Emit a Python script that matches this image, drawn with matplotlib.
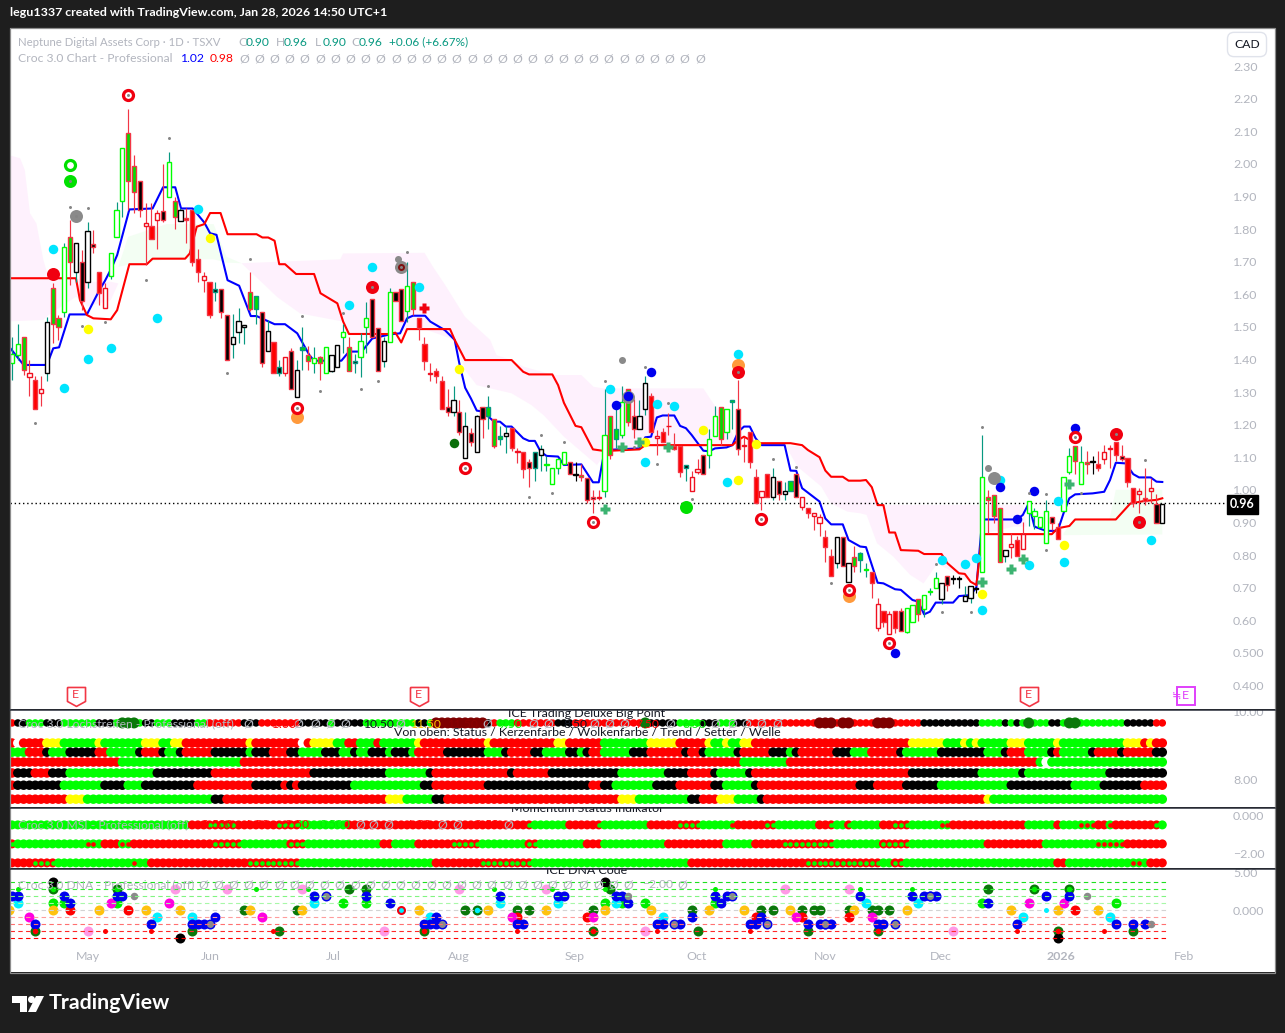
import matplotlib
matplotlib.use("Agg")
import matplotlib.pyplot as plt
from matplotlib.lines import Line2D
from matplotlib.patches import Polygon, Circle, Rectangle
from matplotlib.path import Path
from matplotlib.transforms import Affine2D

plt.rcParams['font.family'] = ['Lato', 'DejaVu Sans']

W, H = 1285, 1033
BG = '#1e1e1e'
GRAY = '#b2b5be'
TEAL = '#089981'
MINUS = '\u2212'

# Candles, one entry per bar
candle_top = [
    1.417,1.447,1.468,1.357,1.337,1.308,1.516,1.618,1.526,1.746,
    1.776,1.756,1.698,1.795,1.755,1.667,1.618,1.725,1.857,2.047,
    2.095,1.994,1.946,1.817,1.809,1.848,1.856,2.006,1.887,1.857,
    1.835,1.857,1.707,1.657,1.636,1.617,1.617,1.537,1.468,1.517,
    1.507,1.606,1.596,1.546,1.486,1.454,1.376,1.406,1.427,1.367,
    1.437,1.414,1.403,1.406,1.437,1.414,1.445,1.485,1.437,1.396,
    1.455,1.526,1.586,1.497,1.455,1.606,1.606,1.617,1.626,1.636,
    1.526,1.447,1.357,1.365,1.335,1.255,1.277,1.238,1.197,1.175,
    1.227,1.255,1.255,1.216,1.166,1.175,1.189,1.118,1.117,1.086,
    1.117,1.126,1.078,1.066,1.096,1.117,1.086,1.048,1.045,1.037,
    .977,.977,1.167,1.227,1.188,1.268,1.308,1.227,1.227,1.327,
    1.287,1.166,1.176,1.197,1.135,1.135,1.077,1.038,1.065,1.106,
    1.157,1.227,1.255,1.247,1.277,1.247,1.137,1.176,1.038,.997,
    1.047,1.038,1.026,.997,1.026,1.047,.977,.945,.928,.918,
    .856,.796,.856,.856,.776,.795,.807,.757,.747,.649,
    .627,.618,.627,.627,.636,.648,.666,.676,.690,.728,
    .715,.737,.728,.728,.675,.706,.698,1.038,.977,.985,
    .945,.816,.835,.847,.865,.967,.936,.918,.936,.918,
    .887,1.038,1.105,1.135,1.086,1.086,1.088,1.078,1.117,1.128,
    1.146,1.105,1.097,1.007,.997,.976,1.007,.956,.957]
candle_bot = [
    1.388,1.414,1.367,1.347,1.247,1.296,1.357,1.508,1.498,1.546,
    1.698,1.667,1.579,1.636,1.746,1.605,1.557,1.657,1.776,1.887,
    1.946,1.915,1.858,1.808,1.768,1.828,1.828,1.897,1.836,1.826,
    1.828,1.698,1.667,1.645,1.537,1.606,1.546,1.398,1.446,1.485,
    1.498,1.556,1.556,1.388,1.427,1.357,1.357,1.357,1.308,1.286,
    1.429,1.396,1.388,1.388,1.357,1.365,1.376,1.468,1.365,1.388,
    1.406,1.498,1.47,1.365,1.396,1.454,1.578,1.517,1.548,1.556,
    1.495,1.396,1.355,1.349,1.247,1.238,1.238,1.176,1.097,1.146,
    1.117,1.216,1.227,1.135,1.157,1.166,1.127,1.116,1.065,1.066,
    1.066,1.107,1.076,1.017,1.066,1.078,1.047,1.046,1.038,.968,
    .971,.975,.997,1.106,1.157,1.167,1.207,1.188,1.188,1.247,
    1.176,1.158,1.146,1.195,1.125,1.056,1.066,.997,1.056,1.047,
    1.106,1.166,1.157,1.176,1.268,1.126,1.135,1.086,.959,.977,
    .977,.977,.987,.986,.997,.977,.946,.928,.919,.897,
    .826,.737,.776,.767,.716,.767,.785,.755,.715,.577,
    .596,.557,.577,.567,.565,.596,.619,.635,.688,.698,
    .666,.707,.726,.726,.658,.667,.696,.747,.969,.921,
    .779,.796,.826,.796,.817,.928,.919,.887,.836,.898,
    .849,.936,1.056,1.087,1.017,1.079,1.086,1.066,1.095,1.126,
    1.106,1.095,1.025,.958,.986,.966,.997,.897,.897]
candle_hi = [
    1.47,1.508,1.47,1.398,1.349,1.349,1.53,1.633,1.536,1.757,
    1.827,1.756,1.735,1.821,1.797,1.667,1.633,1.725,1.884,2.047,
    2.167,2.027,1.946,1.879,1.879,1.858,2.0,2.035,1.899,1.863,
    1.863,1.857,1.74,1.667,1.636,1.636,1.617,1.537,1.539,1.557,
    1.507,1.667,1.596,1.546,1.52,1.454,1.398,1.406,1.434,1.398,
    1.5,1.44,1.437,1.41,1.437,1.414,1.445,1.51,1.47,1.417,
    1.48,1.577,1.586,1.497,1.47,1.62,1.606,1.617,1.698,1.636,
    1.526,1.47,1.388,1.375,1.349,1.308,1.318,1.277,1.238,1.19,
    1.23,1.255,1.288,1.216,1.196,1.196,1.189,1.127,1.117,1.096,
    1.117,1.137,1.103,1.066,1.096,1.117,1.086,1.086,1.079,1.037,
    .999,.999,1.308,1.227,1.265,1.318,1.308,1.28,1.275,1.349,
    1.296,1.183,1.19,1.237,1.175,1.135,1.077,1.058,1.096,1.106,
    1.188,1.257,1.255,1.247,1.277,1.337,1.163,1.176,1.063,.997,
    1.047,1.066,1.026,1.025,1.026,1.047,.977,.945,.928,.926,
    .877,.817,.856,.856,.776,.827,.81,.774,.747,.667,
    .627,.627,.627,.637,.636,.648,.666,.676,.698,.747,
    .715,.737,.739,.737,.706,.706,.703,1.168,.999,.985,
    .945,.816,.866,.858,.902,.967,.943,.918,.969,.918,
    .899,1.038,1.127,1.135,1.135,1.119,1.104,1.119,1.137,1.137,
    1.146,1.137,1.097,1.007,1.007,1.066,1.035,.986,.957]
candle_lo = [
    1.337,1.398,1.352,1.288,1.247,1.257,1.335,1.449,1.459,1.53,
    1.628,1.638,1.551,1.62,1.727,1.567,1.557,1.646,1.776,1.838,
    1.858,1.85,1.838,1.69,1.768,1.74,1.82,1.897,1.799,1.826,
    1.758,1.687,1.638,1.608,1.528,1.579,1.528,1.398,1.403,1.45,
    1.447,1.55,1.51,1.378,1.427,1.357,1.349,1.349,1.308,1.286,
    1.367,1.367,1.357,1.337,1.357,1.36,1.376,1.42,1.365,1.359,
    1.345,1.42,1.47,1.365,1.377,1.454,1.578,1.517,1.516,1.536,
    1.459,1.367,1.335,1.329,1.247,1.226,1.226,1.168,1.097,1.134,
    1.117,1.158,1.188,1.127,1.137,1.114,1.12,1.083,1.035,1.01,
    1.028,1.059,1.059,1.017,1.048,1.078,1.047,1.028,1.028,.958,
    .93,.968,.979,1.096,1.127,1.158,1.195,1.158,1.188,1.23,
    1.176,1.107,1.146,1.168,1.122,1.04,1.028,.997,1.048,1.047,
    1.066,1.166,1.137,1.157,1.188,1.107,1.086,1.066,.959,.938,
    .977,.969,.969,.969,.997,.977,.938,.915,.877,.858,
    .78,.737,.759,.767,.716,.749,.749,.734,.667,.568,
    .58,.557,.56,.567,.56,.596,.597,.61,.677,.698,
    .65,.69,.71,.7,.658,.652,.682,.747,.867,.899,
    .779,.78,.79,.796,.817,.889,.879,.887,.836,.877,
    .849,.936,1.048,1.048,1.017,1.048,1.048,1.059,1.079,1.068,
    1.088,1.088,1.01,.948,.928,.953,.961,.897,.897]
candle_kind = "".join([
    "gglhfhkllg","lkbkbfhggg","llbhfhbglk","fffhfnbbkk","klmbkfnhbk",
    "mlglgkkgln","ggbbkgbbgl","ffhffbkbkb","kbmlmkfhfb","nkggggbjlb",
    "bhglmglbkk","fhfhffnhhb","gglgmbhffh","fkbkmbhfhh","ffkbklmgfh",
    "fhfbgglggg","kbjjkkjgll","lkhfhggggb","fgglgljfhh","fbffhfhbk"])

# Blue and red lines
blue_x = [-0.5,2,6,7.1,8.1,9.9,12.9,15,16,17.1,18.1,20.2,24.2,26,28.1,29.1,31.1,33.1,34.1,35.2,37.1,39.1,
          41.1,42.1,45.2,47,49.1,51.2,52,56.7,58,60.2,62,65.1,66.8,68,69,71.1,72,74.5,76.2,77,78,79,80,81,
          83,84,85,86,88,89,90,91,92,94,95,98,100,101,102,108,109,110,111,112,114,115,116,117,119,120,121,
          123,124,125,126,127,128,129,133,134,135,136,139,140,141,143,144,146,147,149,150,152,153,155,156,
          157,158,159,162,163,165,166,167,173,174,175,176,178,180,181,182,183,186,188,189,190,191.7,193,194,
          196,197,198]
blue_y = [1.439,1.383,1.383,1.434,1.437,1.538,1.538,1.611,1.641,1.679,1.72,1.86,1.863,1.928,1.928,1.863,
          1.863,1.82,1.787,1.782,1.643,1.626,1.533,1.533,1.508,1.508,1.48,1.413,1.396,1.396,1.424,1.424,
          1.464,1.477,1.48,1.526,1.534,1.534,1.516,1.49,1.46,1.388,1.313,1.28,1.243,1.24,1.209,1.209,1.194,
          1.194,1.158,1.15,1.15,1.117,1.104,1.102,1.076,1.078,1.023,1.023,1.122,1.127,1.161,1.163,1.222,
          1.228,1.228,1.196,1.189,1.168,1.12,1.118,1.127,1.13,1.137,1.178,1.194,1.194,1.158,1.137,1.137,
          1.059,1.058,1.005,.964,.912,.894,.894,.846,.826,.824,.715,.713,.695,.693,.662,.657,.618,.626,
          .654,.654,.674,.677,.701,.909,.909,.923,.958,.887,.874,.874,.928,.974,.986,.989,.994,1.03,1.083,
          1.081,1.048,1.038,1.038,1.025,1.024]
red_x = [-0.5,11,11.7,12.9,14,17,18.1,20.2,23.2,24.2,29.8,30.6,31.8,33.1,34.1,35.9,37.1,42.1,43.1,44.1,45.2,
         46,47,48.9,52,53.1,56,57,58,64.8,66,67,68,72,75.4,76.2,78,86,88,89,93,94,95,97,98,100,102,108,109,
         124,125,126,127,128,134,136,137,139,140,141,143,144,146,147,148,149,150,151,152,153,156,157,160,161,
         163,164,165,166,167,179,180,182,183,190,192.5,195,197,198]
red_y = [1.649,1.649,1.582,1.536,1.526,1.523,1.551,1.692,1.692,1.709,1.709,1.725,1.807,1.815,1.849,1.849,
         1.784,1.784,1.774,1.774,1.764,1.692,1.692,1.662,1.662,1.603,1.572,1.516,1.478,1.478,1.482,1.452,
         1.493,1.493,1.493,1.46,1.398,1.398,1.362,1.354,1.354,1.321,1.267,1.196,1.192,1.124,1.119,1.124,
         1.137,1.137,1.153,1.163,1.153,1.143,1.143,1.137,1.122,1.1,1.059,1.04,1.04,1.028,1.028,1.03,1.008,
         .953,.953,.869,.869,.815,.813,.803,.803,.775,.744,.742,.718,.708,.864,.864,.882,.889,.909,.909,
         .958,.966,.969,.974]

# Cloud outlines, going round each patch
pink_a_x = [-1.5,0,1.4,2.2,3.1,4.2,5.4,6.3,11,13,17,18.3,17,13,11,6.3,5.4,-1.5]
pink_a_y = [2.024,2.024,2.017,1.981,1.848,1.817,1.705,1.649,1.649,1.638,1.638,1.633,1.582,1.562,1.592,1.536,1.521,1.516]
green_a_x = [18.3,20,26.6,34.7,36.9,39.5,36.9,34.7,26.6,20]
green_a_y = [1.684,1.776,1.815,1.815,1.715,1.695,1.697,1.707,1.707,1.69]
pink_b_x = [39.5,56.5,57,71,72.5,74.5,78,82.3,83.4,86,88,93.2,98,100.1,101.8,119,120.7,123,124.5,123.6,108,102.1,
            100.7,95,91.5,89.4,86,80,78,76.2,71,58,57,49.6,45.6,43.8]
pink_b_y = [1.695,1.707,1.725,1.727,1.683,1.63,1.53,1.46,1.413,1.398,1.378,1.352,1.352,1.316,1.311,1.311,1.265,
            1.214,1.153,1.137,1.132,1.112,1.076,1.163,1.229,1.26,1.296,1.321,1.367,1.46,1.493,1.478,1.516,1.541,1.592,1.623]
pink_c_x = [133.1,136.2,139,140,141,143,144,146,147,148,149,174,174.7,172.4,167,166,159.3,156.9,154.6,151.7,148.9,
            147.1,146,143.8,141,139.3,135.2]
pink_c_y = [1.137,1.132,1.1,1.059,1.04,1.04,1.028,1.03,1.03,1.008,.953,.953,.887,.887,.864,.708,.774,.713,.739,.795,
            .836,.923,.928,.933,.958,1.01,1.071]
green_c_x = [181,182.7,188.9,190,198,198,181]
green_c_y = [.866,.909,.909,1.0,1.0,.863,.861]

# Signals on the price pane
red_ring_x = [20,49,78,100,129,144,151,183]
red_ring_y = [2.21,1.25,1.066,.90,.909,.693,.531,1.161]
red_solid_x = [62,125,190,194,7]
red_solid_y = [1.621,1.362,1.17,.902,1.661]
orange_x = [49,144,125]
orange_y = [1.224,.674,1.383]
gray_big_x = [11,67,106,169]
gray_big_y = [1.841,1.684,1.284,1.035]
gray_mid_x = [66.5,105,168]
gray_mid_y = [1.709,1.397,1.066]
cyan_x = [7,32,25,17,13,9,62,58,70,103,111,114,109,123,125,160,164,166,167,170,175,181,180,196]
cyan_y = [1.74,1.86,1.526,1.436,1.40,1.311,1.684,1.566,1.623,1.308,1.262,1.256,1.086,1.023,1.416,.784,.771,.79,.63,1.03,.768,.777,.965,.845]
yellow_x = [13,34,77,109,119,125,128,167,181]
yellow_y = [1.492,1.773,1.37,1.146,1.182,1.029,1.14,.679,.83]
blue_dot_x = [104,110,106,152,170,173,176,183]
blue_dot_y = [1.259,1.36,1.289,.498,1.01,.909,.995,1.189]
plus_x = [102,105,108,113,167,172,174,182]
plus_y = [.94,1.13,1.148,1.13,.716,.756,.787,1.017]
tiny_x = [20,27,10,13,23,12,16,41,50,57,68,4,37,53,60,63,82,91,95,89,93,102,109,107,111,113,117,131,135,141,
          159,160,165,167,175,178,178,184,195,49,78,100,129,144,151,183,62,125,190,194,10,11,67]
tiny_y = [2.21,2.078,1.868,1.863,1.645,1.504,1.514,1.707,1.533,1.541,1.731,1.204,1.357,1.302,1.308,1.333,1.317,1.168,
          1.146,.977,.989,1.335,1.376,1.13,1.078,1.265,.971,1.093,1.071,.713,.771,.624,.624,1.192,.991,.988,.814,.991,
          1.09,1.25,1.066,.90,.909,.693,.531,1.161,1.621,1.362,1.17,.902,1.948,1.841,1.684]
earnings_x = [11,70,175]

price_ticks = [round(0.4 + 0.1 * k, 1) for k in range(20)]
price_labels = ['0.400', '0.500'] + ['%.2f' % t for t in price_ticks[2:]]
month_ticks = [13.1,34.1,55.3,76.9,96.9,117.9,139.9,159.9,180.5,201.7]
month_labels = ['May','Jun','Jul','Aug','Sep','Oct','Nov','Dec','2026','Feb']

# Strip rows: colour code + first bar of the run
row_point = "r0 k1 g3 k6 g9 k15 g18 d19 g22 k23 g25 k28 g32 r34 k40 r43 k50 g55 k56 g61 k70 g72 D73 k82 r83 g84 r87 k94 r97 d109 k110 g115 k119 g122 k125 r127 D139 r142 D143 r145 D149 r152 k157 g167 k171 g172 k173 g174 d175 g176 k179 g181 d182 g184 k192 r197"
row_status = "r0 w1 r2 y6 g9 y15 g16 y23 g26 y28 r30 y41 r42 w50 r51 y52 g56 r58 g60 r63 g64 y70 r71 y82 r83 y94 r96 g102 y110 r115 y120 g121 y123 g124 y126 r128 y155 g161 y164 g165 y166 g167 y172 g175 y180 g181 y192 r195 y196 r197"
row_candle = "g0 r3 k6 g7 k10 r15 g17 k22 r23 k26 g27 k29 r30 k35 g41 k42 r45 k48 g50 k54 g57 k59 g60 k62 g65 k66 g69 r70 k75 g82 k85 r86 k90 g92 k96 g98 k99 r100 g102 k107 r110 k116 r117 k119 g120 k125 r126 k131 g134 k135 r136 k142 g145 r148 k153 g154 k160 g168 k171 r172 g175 k179 r180 g181 k186 r187 k191 r192 k197"
row_cloud = "r0 g19 r40 g126 r134 g177 w178 g179"
row_trend = "r0 k1 r4 k7 g10 k25 r35 k52 g65 k72 r73 k86 r87 k93 g105 k113 r117 k121 g122 k127 r128 k155 g167 k174 g175 k189"
row_setter = "r0 k1 g9 k16 g20 k23 r32 k42 r47 k48 r49 k50 g59 k71 r73 k82 r100 k102 g104 k111 r115 k121 g123 k128 r129 k146 r149 k154 g160 k172 g183 k188 r195"
row_wave = "r0 y10 g13 k35 r37 y65 g68 k73 r75 y105 g108 k117 r119 y122 g125 k129 r130 y168 g169"
strip_levels = [9.65,9.06,8.79,8.5,8.18,7.82,7.41]

# Momentum rows, a = red with lime centre, b = lime with red centre
mom_one = "g0 r31 a34 r39 a46 g50 r58 a89 g90 r96 a101 g102 r110 a115 g119 b124 r125 a130 g132 r139 a141 g142 a144 g145 r150 a152 g155 b160 r162 g175 r180 g181 b184 r187 b189 r190 a197 g198"
mom_two = "a0 g1 b13 g15 r16 b19 r21 a35 g40 a48 g51 r64 g66 r70 a76 g81 a89 g91 r99 g102 r113 g123 r128 a133 g142 a150 g155 r168 g178 b187 r192"
mom_three = "r0 a4 g8 b21 g22 r24 a41 g50 r73 a81 g90 r117 a137 g150 a152 g154 r180 g182 b193 g195 r196"
mom_levels = [-0.47,-1.47,-2.47]

# DNA pane, bar index and level per colour
dna_blue_x = [0,1,9,18,19,52,61,84,94,95,104,105,121,123,146,155,157,158,159,178,182,10,65,106,122,168,35,73,117,129,
              4,24,31,32,33,71,72,73,87,88,111,112,115,127,128,137,139,140,141,149,150,173,190,193,195]
dna_blue_y = [2]*21 + [1]*5 + [-1]*4 + [-2]*25
dna_bluegray_x = [54,124,158,34,74,114,130,140,152]
dna_bluegray_y = [2,2,2,-2,-2,-2,-2,-2,-2]
dna_gray_x = [21,106,185,196]
dna_gray_y = [2,2,2,-2]
dna_lime_x = [7,9,18,57,61,102,105,109,121,167,190]
dna_lime_y = [1]*11
dna_green_x = [58,61,103,168,40,49,78,87,89,100,117,129,131,136,138,139,144,148,149,151,46,118,137,193,31]
dna_green_y = [3]*4 + [0]*16 + [-3]*5
dna_greenlime_x = [7,18,176,182]
dna_greenlime_y = [3,3,3,3]
dna_greenred_x = [4,71,100,149,180]
dna_greenred_y = [-3]*5
dna_black_x = [7,102,29,180]
dna_black_y = [4,4,-4,-4]
dna_magenta_x = [17,27,175,181,3,43,86,100,135,148]
dna_magenta_y = [1]*4 + [-1]*6
dna_pink_x = [28,37,50,77,92,133,144,13,64,109,162]
dna_pink_y = [3]*7 + [-3]*4
dna_amber_x = [-0.6,7,15,23,29,41,50,70,82,92,102,110,120,126,134,145,154,172,180,187]
dna_amber_y = [0]*20
dna_red_x = [10,20,183,87,99,128,136,144]
dna_red_y = [0,0,0,-1,-1,-1,-1,-1]
dna_cyan_x = [1,52,84,94,104,147,156,25,31,72,112,174,189]
dna_cyan_y = [1]*7 + [-1]*6
dna_smallred_x = [16,24,45,87,111,127,173,188]
dna_smallred_y = [-3]*8
dna_smalllime_x = [1,42,51,83,93,102,121,146,155]
dna_smalllime_y = [3]*9
dna_levels = [4,3,2,1,0,-1,-2,-3,-4]
dna_level_colors = ['#1fe01f','#33ee33','#80f580','#a8f8a8','#d3d3d3','#ff9c9c','#ff7070','#ff2a2a','#ff0000']

STYLES = {
    'g': ('white', '#00ff00', TEAL), 'k': ('white', 'black', TEAL), 'j': ('white', 'black', 'black'),
    'h': ('white', '#f01020', '#f23645'), 'f': ('#ff0000', '#f23645', '#f23645'),
    'b': ('black', '#f23645', '#f23645'), 'l': ('#00e000', '#f23645', '#f23645'),
    'm': ('#00e000', TEAL, TEAL), 'n': ('black', TEAL, TEAL),
}
DOTS = {'r': '#ff0000', 'g': '#00ff00', 'k': '#000000', 'y': '#ffff00', 'w': '#ffffff', 'D': '#7f0000', 'd': '#0a780a'}


def expand(runs, n=199):
    parts = runs.split()
    out = []
    for p, nxt in zip(parts, parts[1:] + [None]):
        end = int(nxt[1:]) if nxt else n
        out += [p[0]] * (end - int(p[1:]))
    return out


def pane(y0, y1, ylim):
    ax = fig.add_axes([10 / W, 1 - y1 / H, 1265 / W, (y1 - y0) / H])
    ax.set_xlim(-0.344, 217.4)
    ax.set_ylim(*ylim)
    for s in ax.spines.values():
        s.set_visible(False)
    ax.set_xticks([])
    return ax


def right_ticks(ax, ticks, labels):
    ax.yaxis.tick_right()
    ax.set_yticks(ticks)
    ax.set_yticklabels(labels)
    ax.tick_params(axis='y', length=0, pad=-30.2, labelsize=8.9, labelcolor=GRAY)
    for t in ax.yaxis.get_major_ticks():
        t.label2.set_clip_on(True)
        t.label2.set_clip_box(ax.bbox)


def put(x, y, s, color=GRAY, size=8.7, **kw):
    return fig.text(x / W, 1 - y / H, s, color=color, fontsize=size, va='center', **kw)


def dots(ax, xs, ys, color, px, z=5, **kw):
    ax.scatter(xs, ys, s=(px * 0.72) ** 2, c=color, linewidths=0, zorder=z, **kw)


fig = plt.figure(figsize=(W / 100, H / 100), dpi=100, facecolor=BG)

# price pane
ax = pane(28, 709, (0.3276, 2.4166))
for cx, cy, col in [(pink_a_x, pink_a_y, '#fef1fd'), (pink_b_x, pink_b_y, '#fef1fd'), (pink_c_x, pink_c_y, '#fef1fd'),
                    (green_a_x, green_a_y, '#f3fef3'), (green_c_x, green_c_y, '#f3fef3')]:
    ax.fill(cx, cy, color=col, lw=0, zorder=1)
ax.plot(blue_x, blue_y, color='#0000ff', lw=1.5, zorder=2)
ax.plot(red_x, red_y, color='#ff0000', lw=1.5, zorder=2.1)
ax.hlines(0.96, -0.344, 208.6, color='black', lw=1, linestyles=(0, (1, 2)), zorder=2.2)

for i, kind in enumerate(candle_kind):
    face, edge, wick = STYLES[kind]
    ax.vlines(i, candle_lo[i], candle_hi[i], color=wick, lw=0.85, zorder=3)
    ax.bar(i, candle_top[i] - candle_bot[i], bottom=candle_bot[i], width=0.72, facecolor=face,
           edgecolor=edge, linewidth=1.0, zorder=3.1)

dots(ax, cyan_x, cyan_y, '#00e5ff', 9.5)
dots(ax, yellow_x, yellow_y, '#ffff00', 9.5)
dots(ax, gray_big_x, gray_big_y, '#8a8a8a', 13)
dots(ax, gray_mid_x, gray_mid_y, '#8a8a8a', 7)
dots(ax, orange_x, orange_y, '#ff9a3c', 13)
dots(ax, blue_dot_x, blue_dot_y, '#0000ee', 9.5, z=5.5)
dots(ax, [76], [1.145], '#0a6e0a', 9.5)
dots(ax, [116], [.948], '#00e000', 13)
dots(ax, red_solid_x, red_solid_y, '#f00010', 13, z=6)
ax.plot(red_ring_x, red_ring_y, ls='', marker='o', ms=7.2, mfc='white', mec='#f00010', mew=2.3, zorder=6)
ax.plot([10], [1.997], ls='', marker='o', ms=7.2, mfc='white', mec='#00e000', mew=2.3, zorder=6)
dots(ax, [10], [1.948], '#00e000', 13, z=6)
dots(ax, [67], [1.684], '#7f1010', 7, z=6)
ax.plot(plus_x, plus_y, ls='', marker='P', ms=7, mfc='#3cb371', mec='none', zorder=6)
ax.plot([71], [1.557], ls='', marker='P', ms=7, mfc='#f00010', mec='none', zorder=6)
dots(ax, tiny_x, tiny_y, '#858585', 3, z=7)

pentagon = Path([(-1, 1), (1, 1), (1, -0.55), (0, -1.1), (-1, -0.55), (-1, 1)])
ax.plot(earnings_x, [.368] * 3, ls='', marker=pentagon, ms=14.3, mfc='white', mec='#f23645', mew=1.2, zorder=8)
for ex in earnings_x:
    ax.text(ex, .372, 'E', color='#f23645', fontsize=8.9, ha='center', va='center', zorder=9)
ax.plot([202], [.368], ls='', marker='s', ms=12.5, mfc='white', mec='#e040fb', mew=1.4, zorder=8)
ax.text(202, .368, 'E', color='#e040fb', fontsize=8.9, ha='center', va='center', zorder=9)
ax.text(200.5, .368, '\u2252', color='#e040fb', fontsize=8, ha='center', va='center', zorder=9)
right_ticks(ax, price_ticks, price_labels)

# status strip pane
ax2 = pane(710, 807, (7.18, 10.03))
strips = [row_point, row_status, row_candle, row_cloud, row_trend, row_setter, row_wave]
for lvl, runs, d in zip(strip_levels, strips, [7.5, 9.5, 9.5, 9.5, 9.5, 9.5, 9.5]):
    codes = expand(runs)
    plain = [i for i, c in enumerate(codes) if c not in 'Dd']
    big = [i for i, c in enumerate(codes) if c in 'Dd']
    dots(ax2, plain, [lvl] * len(plain), [DOTS[codes[i]] for i in plain], d)
    if big:
        dots(ax2, big, [lvl] * len(big), [DOTS[codes[i]] for i in big], 11, z=6)
right_ticks(ax2, [10, 8], ['10.00', '8.00'])
ax2.text(587 / W, 1 - 713.5 / H, 'ICE Trading Deluxe Big Point', transform=fig.transFigure, ha='center', va='center',
         fontsize=8.9, color='#131722', clip_on=True, zorder=10)
ax2.text(587 / W, 1 - 732 / H, 'Von oben: Status / Kerzenfarbe / Wolkenfarbe / Trend / Setter / Welle',
         transform=fig.transFigure, ha='center', va='center', fontsize=8.9, color='#131722', zorder=10)

# momentum pane
ax3 = pane(808, 868, (-2.74, 0.42))
for lvl, runs in zip(mom_levels, [mom_one, mom_two, mom_three]):
    codes = expand(runs)
    base = [('#ff0000' if c in 'ra' else '#00ff00') for c in codes]
    dots(ax3, list(range(len(codes))), [lvl] * len(codes), base, 9)
    for code, col in (('a', '#00ff00'), ('b', '#ff0000')):
        idx = [i for i, c in enumerate(codes) if c == code]
        if idx:
            dots(ax3, idx, [lvl] * len(idx), col, 4.6, z=6)
right_ticks(ax3, [0, -2], ['0.000', MINUS + '2.00'])
ax3.text(587 / W, 1 - 808.5 / H, 'Momentum Status Indikator', transform=fig.transFigure, ha='center', va='center',
         fontsize=8.9, color='#131722', clip_on=True, zorder=10)

# DNA pane
ax4 = pane(869, 972, (-8.86, 5.86))
ax4.hlines(dna_levels, -0.344, 199, colors=dna_level_colors, lw=0.8, linestyles=(0, (4, 3)), zorder=4)
dots(ax4, dna_green_x, dna_green_y, '#0a780a', 10, z=3)
dots(ax4, dna_greenlime_x, dna_greenlime_y, '#0a780a', 10, z=3)
dots(ax4, dna_greenred_x, dna_greenred_y, '#0a780a', 10, z=3)
dots(ax4, dna_lime_x, dna_lime_y, '#00ee00', 10, z=3)
dots(ax4, dna_amber_x, dna_amber_y, '#ffc20e', 10, z=3)
dots(ax4, dna_cyan_x, dna_cyan_y, '#00f0ff', 10, z=3)
dots(ax4, dna_red_x, dna_red_y, '#ff0000', 10, z=3.1)
dots(ax4, dna_magenta_x, dna_magenta_y, '#ff00e0', 10, z=3.2)
dots(ax4, dna_pink_x, dna_pink_y, '#ff99e6', 10, z=3.2)
dots(ax4, dna_blue_x, dna_blue_y, '#0000ee', 10, z=3.3)
dots(ax4, dna_bluegray_x, dna_bluegray_y, '#0000ee', 10, z=3.4)
dots(ax4, dna_bluegray_x, dna_bluegray_y, '#8a8a8a', 7, z=3.5)
dots(ax4, dna_gray_x, dna_gray_y, '#8a8a8a', 7.5, z=3.5)
dots(ax4, dna_black_x, dna_black_y, '#000000', 10, z=3.5)
dots(ax4, dna_greenlime_x, dna_greenlime_y, '#00ee00', 5.5, z=5)
dots(ax4, dna_greenred_x, dna_greenred_y, '#ff0000', 5.5, z=5)
dots(ax4, dna_smallred_x, dna_smallred_y, '#ff0000', 5, z=5)
dots(ax4, dna_smalllime_x, dna_smalllime_y, '#00ee00', 5, z=5)
dots(ax4, [178], [0], '#00f0ff', 5, z=5)
dots(ax4, [80], [0], '#0a780a', 10, z=3.6)
dots(ax4, [80], [0], '#00f0ff', 5.5, z=5)
ax4.plot([67], [0], ls='', marker='o', ms=5, mfc='#00f0ff', mec='#f00010', mew=1.5, zorder=5)
right_ticks(ax4, [5.3, 0], ['5.00', '0.000'])
ax4.set_xticks(month_ticks)
ax4.set_xticklabels(month_labels)
ax4.tick_params(axis='x', length=0, pad=-15, labelsize=8.9, labelcolor=GRAY)
ax4.get_xticklabels()[8].set_fontweight('bold')
ax4.text(587 / W, 1 - 871 / H, 'ICE DNA Code', transform=fig.transFigure, ha='center', va='center', fontsize=8.9,
         color='#131722', clip_on=True, zorder=10)

# frame and separators
for y, col in [(709.5, '#2a2e39'), (807.5, '#2a2e39'), (868.5, '#2a2e39')]:
    fig.add_artist(Line2D([10 / W, 1275 / W], [1 - y / H] * 2, color=col, lw=1.1, transform=fig.transFigure))
fig.add_artist(Rectangle((10 / W, 1 - 972.5 / H), 1265 / W, 945 / H, fill=False, ec='#8c8c8c', lw=0.9,
                         transform=fig.transFigure))

# header and legends
put(10, 13, 'legu1337 created with TradingView.com, Jan 28, 2026 14:50 UTC+1', color='white', size=8.9, fontweight='bold')
put(18, 42, 'Neptune Digital Assets Corp \u00b7 1D \u00b7 TSXV', size=8.2)
for x, a, b in [(238, 'O', '0.90'), (276, 'H', '0.96'), (315, 'L', '0.90'), (351, 'C', '0.96')]:
    put(x, 42, a)
    put(x + 8, 42, b, color=TEAL)
put(389, 42, '+0.06 (+6.67%)', color=TEAL, size=8.5)
put(18, 59, 'Croc 3.0 Chart - Professional')
put(180, 59, '1.02', color='#0000ff')
put(210, 59, '0.98', color='#ff0000')
for k in range(31):
    put(244 + 15.2 * k, 59, '\u00d8', ha='center')

put(18, 724, 'Croc 3.0 Lochstreifen - Professional (off)')
for x in [248, 298, 315, 330, 345, 400, 487, 533, 548, 594, 609, 624, 670, 715, 732, 746, 761, 777]:
    put(x, 724, '\u00d8', ha='center')
for x, s, c in [(265, MINUS + '1.00', '#ff0000'), (363, '10.50', '#131722'), (410, '11.50', '#ffc000'), (447, '11.50', '#8b0000'),
                (498, '9.50', '#00ee00'), (563, '8.50', '#131722'), (635, '7.50', '#ff0000'), (682, '6.50', '#00ee00')]:
    put(x, 724, s, color=c)

put(18, 825, 'Croc 3.0 MSI - Professional (off)')
for x, s, c in [(195, MINUS + '0.500', '#ff0000'), (238, MINUS + '1.50', '#ff0000'), (278, MINUS + '2.50', '#ff0000'),
                (320, '0.500', '#00ee00'), (400, MINUS + '1.50', '#ff0000'), (468, MINUS + '2.50', '#ff0000')]:
    put(x, 825, s, color=c)
for x in [360, 373, 388, 442, 457, 508]:
    put(x, 825, '\u00d8', ha='center')

put(18, 885, 'Croc 3.0 DNA - Professional (off)')
for k in range(29):
    put(203 + 15.2 * k, 885, '\u00d8', ha='center')
put(642, 885, MINUS + '2.00')
put(682, 885, '\u00d8', ha='center')

# last price tag and currency button
put(1242.5, 504, '0.96', color='white', size=9, fontweight='bold', ha='center',
    bbox=dict(boxstyle='square,pad=0.28', fc='black', ec='black'))
put(1247, 44.5, 'CAD', color='#131722', size=8.7, ha='center',
    bbox=dict(boxstyle='round,pad=0.55', fc='white', ec='#e0e3eb', lw=1))

# footer logo
px = Affine2D().scale(1 / W, -1 / H).translate(0, 1) + fig.transFigure
fig.add_artist(Polygon([(12, 996), (27, 996), (27, 1012), (20, 1012), (20, 1003), (12, 1003)], fc='white', ec='none', transform=px))
fig.add_artist(Polygon([(36, 996), (44, 996), (36, 1012), (28, 1012)], fc='white', ec='none', transform=px))
fig.add_artist(Circle((31.5, 999.5), 3.5, fc='white', ec='none', transform=px))
put(49, 1003, 'TradingView', color='white', size=15.4, fontweight='bold')

fig.savefig('out.png', dpi=100, facecolor=BG)
